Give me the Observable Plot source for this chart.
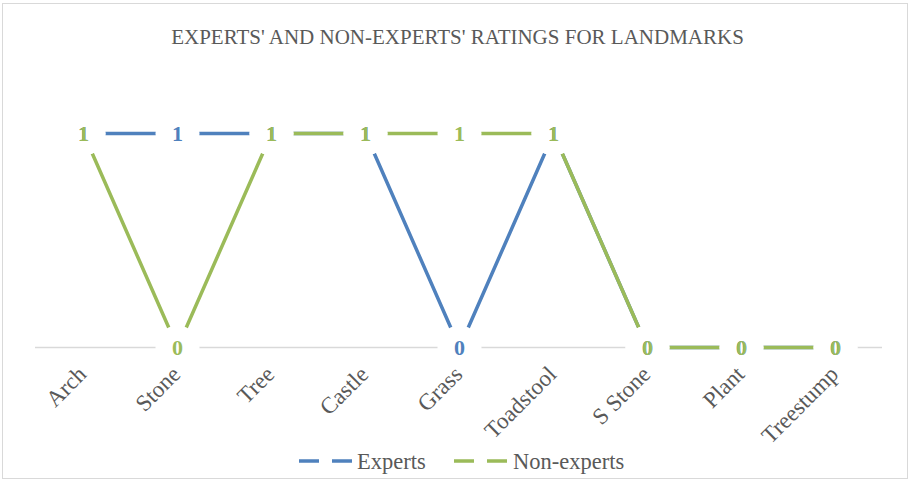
<!DOCTYPE html>
<html>
<head>
<meta charset="utf-8">
<script src="https://cdn.jsdelivr.net/npm/d3@7"></script>
<script src="https://cdn.jsdelivr.net/npm/@observablehq/plot@0.6"></script>
<style>
  html, body { margin: 0; padding: 0; background: #fff; }
  body { width: 911px; height: 481px; position: relative; overflow: hidden; font-family: "Liberation Serif", "Times New Roman", Times, Tinos, "DejaVu Serif", serif; }
  #frame { position: absolute; left: 2px; top: 3px; width: 906px; height: 476px; border: 1.5px solid #d9d9d9; box-sizing: border-box; }
  #title { position: absolute; left: 0; top: 24px; width: 915px; text-align: center; font-size: 21px; line-height: 26px; color: #595959; }
  #chart { position: absolute; left: 0; top: 60px; }
  .leg { position: absolute; top: 449px; font-size: 22.5px; line-height: 26px; color: #595959; white-space: nowrap; }
  .sw { position: absolute; top: 453px; }
</style>
</head>
<body>
<div id="frame"></div>
<div id="title">EXPERTS' AND NON-EXPERTS' RATINGS FOR LANDMARKS</div>
<div id="chart"></div>
<div id="legend"></div>
<script>
const categories = ["Arch", "Stone", "Tree", "Castle", "Grass", "Toadstool", "S Stone", "Plant", "Treestump"];
const experts = [1, 1, 1, 1, 0, 1, 0, 0, 0];
const nonExperts = [1, 0, 1, 1, 1, 1, 0, 0, 0];
const seriesNames = ["Experts", "Non-experts"];
const colors = ["#4F81BD", "#9BBB59"];
const FONT = '"Liberation Serif", "Times New Roman", Times, Tinos, "DejaVu Serif", serif';

const expData = categories.map((c, i) => ({cat: c, v: experts[i]}));
const nonData = categories.map((c, i) => ({cat: c, v: nonExperts[i]}));
const allPts = expData.concat(nonData);

const plot = Plot.plot({
  width: 911,
  height: 380,
  marginLeft: 35,
  marginRight: 29,
  marginTop: 73,
  marginBottom: 93,
  x: {type: "point", domain: categories, padding: 0.5, axis: null},
  y: {domain: [0, 1], axis: null},
  style: {fontFamily: FONT, background: "transparent", overflow: "visible"},
  marks: [
    Plot.ruleY([0], {stroke: "#d9d9d9", strokeWidth: 1.5}),
    Plot.line(expData, {x: "cat", y: "v", stroke: colors[0], strokeWidth: 3.5}),
    Plot.line(nonData, {x: "cat", y: "v", stroke: colors[1], strokeWidth: 3.5}),
    Plot.dot(allPts, {x: "cat", y: "v", r: 22, fill: "white", stroke: "none"}),
    Plot.text(expData, {x: "cat", y: "v", text: d => String(d.v), fill: colors[0], fontSize: 22, fontWeight: "bold", fontFamily: FONT, lineAnchor: "middle"}),
    Plot.text(nonData, {x: "cat", y: "v", text: d => String(d.v), fill: colors[1], fontSize: 22, fontWeight: "bold", fontFamily: FONT, lineAnchor: "middle"}),
    Plot.text(categories, {x: d => d, y: () => 0, text: d => d, rotate: -45, textAnchor: "end", lineAnchor: "middle", dx: -1, dy: 23, fontSize: 23, fontFamily: FONT, fill: "#595959"})
  ]
});
document.getElementById("chart").appendChild(plot);

// legend
const legend = document.getElementById("legend");
const legPos = [{sw: 299, txt: 357}, {sw: 454, txt: 513}];
seriesNames.forEach((name, i) => {
  const s = document.createElementNS("http://www.w3.org/2000/svg", "svg");
  s.setAttribute("width", 54); s.setAttribute("height", 16);
  s.setAttribute("class", "sw");
  s.style.left = legPos[i].sw + "px";
  const l = document.createElementNS("http://www.w3.org/2000/svg", "line");
  l.setAttribute("x1", 0); l.setAttribute("x2", 53); l.setAttribute("y1", 8); l.setAttribute("y2", 8);
  l.setAttribute("stroke", colors[i]); l.setAttribute("stroke-width", 3.5);
  l.setAttribute("stroke-dasharray", "20 13");
  s.appendChild(l);
  legend.appendChild(s);
  const t = document.createElement("div");
  t.className = "leg"; t.style.left = legPos[i].txt + "px"; t.textContent = name;
  legend.appendChild(t);
});
</script>
</body>
</html>
